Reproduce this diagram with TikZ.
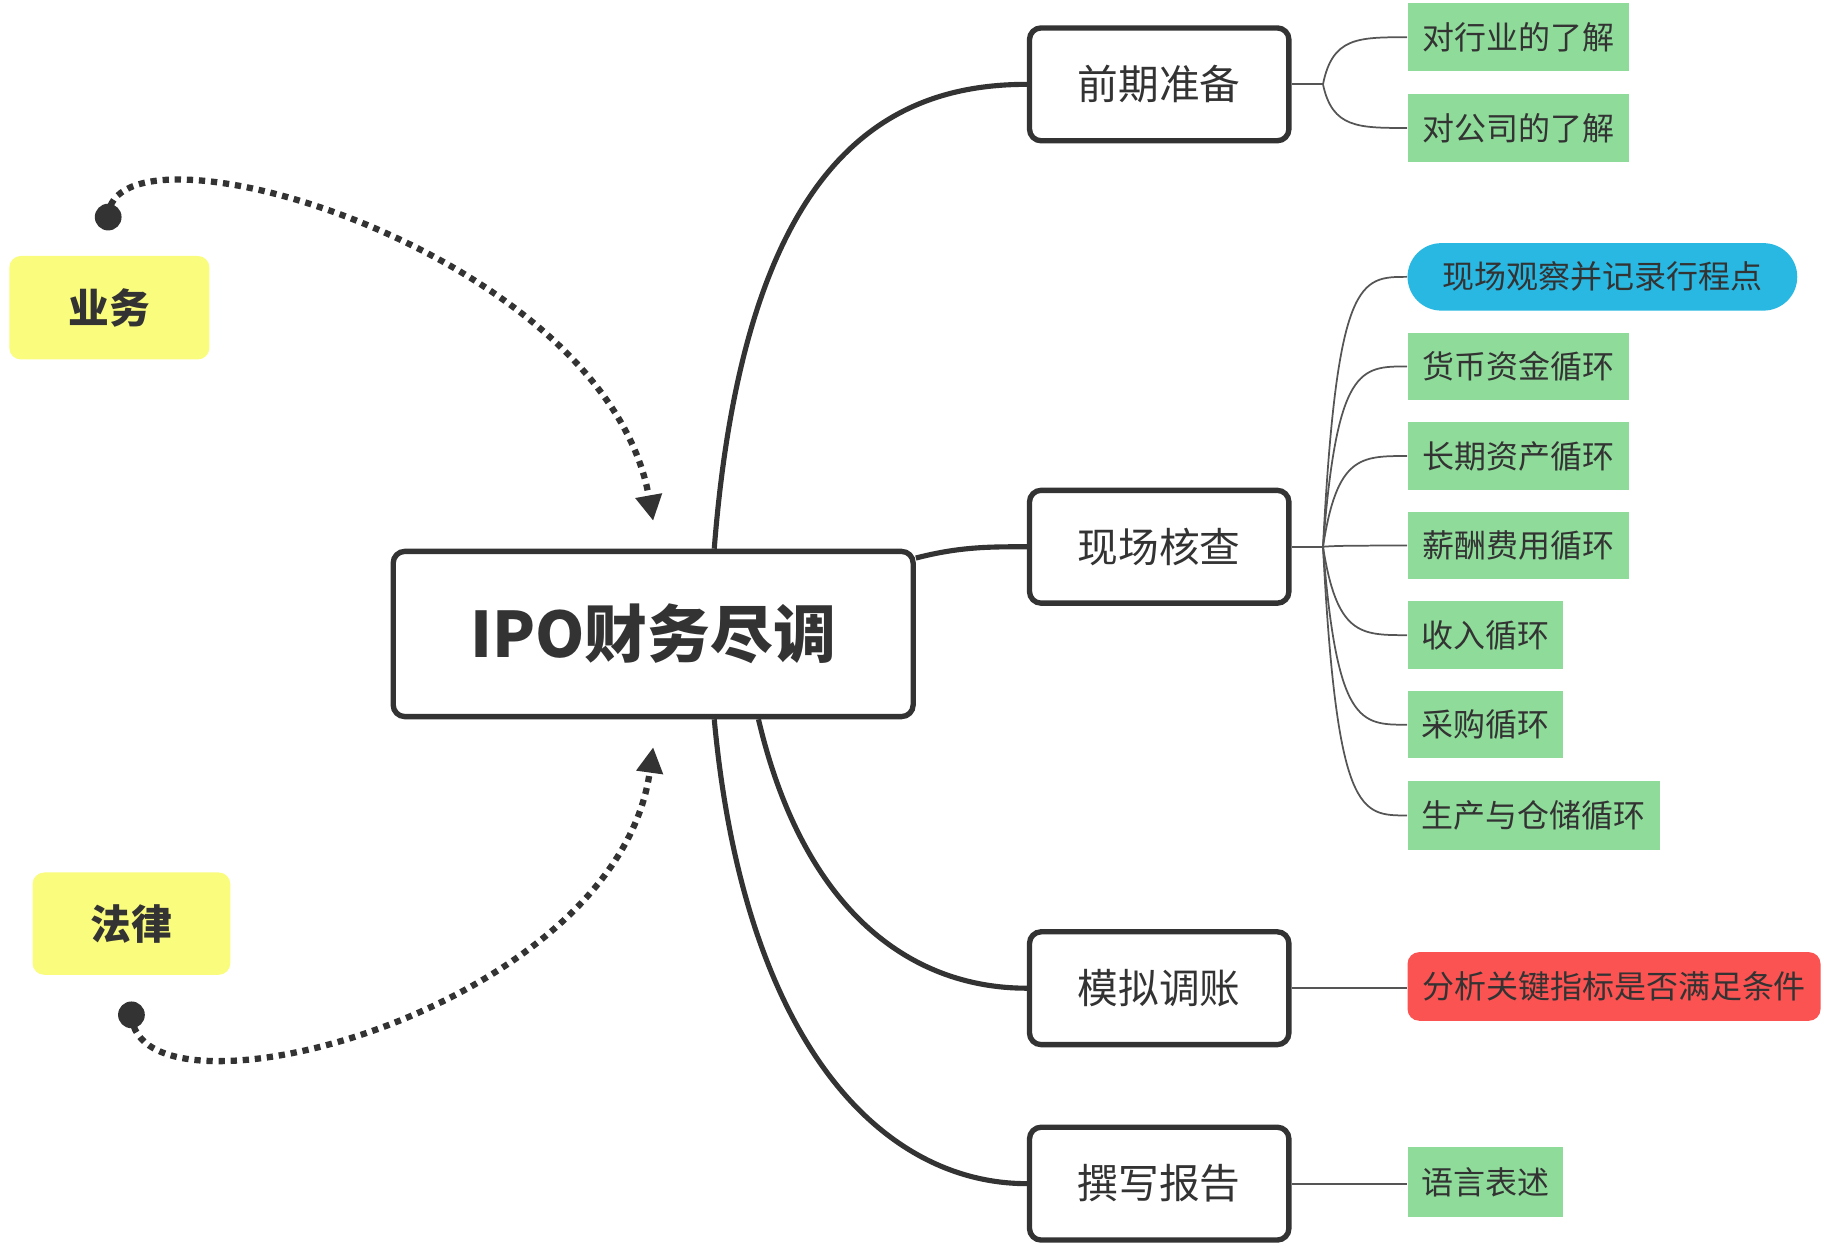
\documentclass[tikz,border=0pt]{standalone}
\usepackage{fontspec}
\newfontfamily\cjk{Noto Sans CJK SC}
\usetikzlibrary{arrows.meta,calc}
\definecolor{ink}{HTML}{333333}
\definecolor{thinline}{HTML}{555555}
\definecolor{leafgreen}{HTML}{8EDB9A}
\definecolor{pillblue}{HTML}{29B8E2}
\definecolor{alertred}{HTML}{FB5252}
\definecolor{noteyellow}{HTML}{FAFC7E}
\begin{document}
\begin{tikzpicture}[x=0.5pt,y=-0.5pt,
  root/.style={draw=ink,line width=2.3pt,rounded corners=5pt,fill=white,
    minimum width=223.5pt,minimum height=71pt,inner sep=0pt,
    font=\cjk\bfseries\fontsize{27}{30}\selectfont,text=ink},
  topic/.style={draw=ink,line width=2.3pt,rounded corners=5pt,fill=white,
    minimum width=111.5pt,minimum height=48.5pt,inner sep=0pt,
    font=\cjk\fontsize{17.5}{20}\selectfont,text=ink},
  leaf/.style={fill=leafgreen,minimum height=29pt,inner sep=0pt,
    font=\cjk\fontsize{13.75}{16}\selectfont,text=ink},
  pill/.style={fill=pillblue,rounded corners=14.5pt,minimum width=167.5pt,
    minimum height=29pt,inner sep=0pt,font=\cjk\fontsize{13.75}{16}\selectfont,text=ink},
  alert/.style={fill=alertred,rounded corners=5pt,minimum width=177.5pt,
    minimum height=29.5pt,inner sep=0pt,font=\cjk\fontsize{13.75}{16}\selectfont,text=ink},
  note/.style={fill=noteyellow,rounded corners=5pt,inner sep=0pt,
    font=\cjk\bfseries\fontsize{17.5}{20}\selectfont,text=ink},
  thick link/.style={draw=ink,line width=2.2pt},
  thin link/.style={draw=thinline,line width=0.75pt},
  dotted link/.style={draw=ink,line width=2.7pt,dash pattern=on 2.7pt off 2.5pt,
    -{Triangle[width=11pt,length=11pt]}},
]
\useasboundingbox (0,0) rectangle (1568,1073);

% nodes
\node[root] (c) at (561.5,545) {IPO财务尽调};
\node[topic] (p1) at (996.5,72.5) {前期准备};
\node[topic] (p2) at (996.5,470) {现场核查};
\node[topic] (p3) at (996.5,849.5) {模拟调账};
\node[topic] (p4) at (996.5,1017.5) {撰写报告};

\node[leaf,minimum width=95pt] (l11) at (1305,32) {对行业的了解};
\node[leaf,minimum width=95pt] (l12) at (1305,110) {对公司的了解};
\node[pill] (l21) at (1377.5,238) {现场观察并记录行程点};
\node[leaf,minimum width=95pt] (l22) at (1305,315) {货币资金循环};
\node[leaf,minimum width=95pt] (l23) at (1305,392) {长期资产循环};
\node[leaf,minimum width=95pt] (l24) at (1305,469) {薪酬费用循环};
\node[leaf,minimum width=67pt] (l25) at (1277,546) {收入循环};
\node[leaf,minimum width=67pt] (l26) at (1277,623) {采购循环};
\node[leaf,minimum width=108.5pt,minimum height=30pt] (l27) at (1318.5,701) {生产与仓储循环};
\node[alert] (l31) at (1387.5,848) {分析关键指标是否满足条件};
\node[leaf,minimum width=67pt,minimum height=30pt] (l41) at (1277,1016) {语言表述};

\node[note,minimum width=86pt,minimum height=44.5pt] (y1) at (94,264.5) {业务};
\node[note,minimum width=85pt,minimum height=44pt] (y2) at (113,794) {法律};

% main branches
\draw[thick link] ($(c.north)+(52.5,0)$) .. controls (640,140) and (760,72.5) .. (p1.west);
\draw[thick link] ($(c.north east)+(0,8)$) .. controls (825,470) and (850,470) .. (p2.west);
\draw[thick link] ($(c.south)+(90.5,0)$) .. controls (690,780) and (780,849.5) .. (p3.west);
\draw[thick link] ($(c.south)+(52.5,0)$) .. controls (640,900) and (760,1017.5) .. (p4.west);

% sub branches
\coordinate (j1) at ($(p1.east)+(27,0)$);
\draw[thin link] (p1.east) -- (j1);
\foreach \n in {l11,l12}{
  \draw[thin link] (j1) .. controls ($(j1|-\n.west)+(8,0)$) and ($(j1|-\n.west)+(30,0)$) .. (\n.west);
}
\coordinate (j2) at ($(p2.east)+(27,0)$);
\draw[thin link] (p2.east) -- (j2);
\foreach \n in {l21,l22,l23,l24,l25,l26,l27}{
  \draw[thin link] (j2) .. controls ($(j2|-\n.west)+(12,0)$) and ($(j2|-\n.west)+(32,0)$) .. (\n.west);
}
\draw[thin link] (p3.east) -- (p3.east -| l31.west);
\draw[thin link] (p4.east) -- (p4.east -| l41.west);

% dotted relations
\coordinate (d1) at ($(y1.north)+(-1,-33)$);
\coordinate (a1) at ($(c.north)+(0,-24)$);
\fill[ink] (d1) circle (5.75pt);
\draw[dotted link] (d1) .. controls (95,92) and (520,215) .. (a1);

\coordinate (d2) at ($(y2.south)+(0,34)$);
\coordinate (a2) at ($(c.south)+(0,24)$);
\fill[ink] (d2) circle (5.75pt);
\draw[dotted link] (d2) .. controls (118,975) and (530,870) .. (a2);
\end{tikzpicture}
\end{document}
